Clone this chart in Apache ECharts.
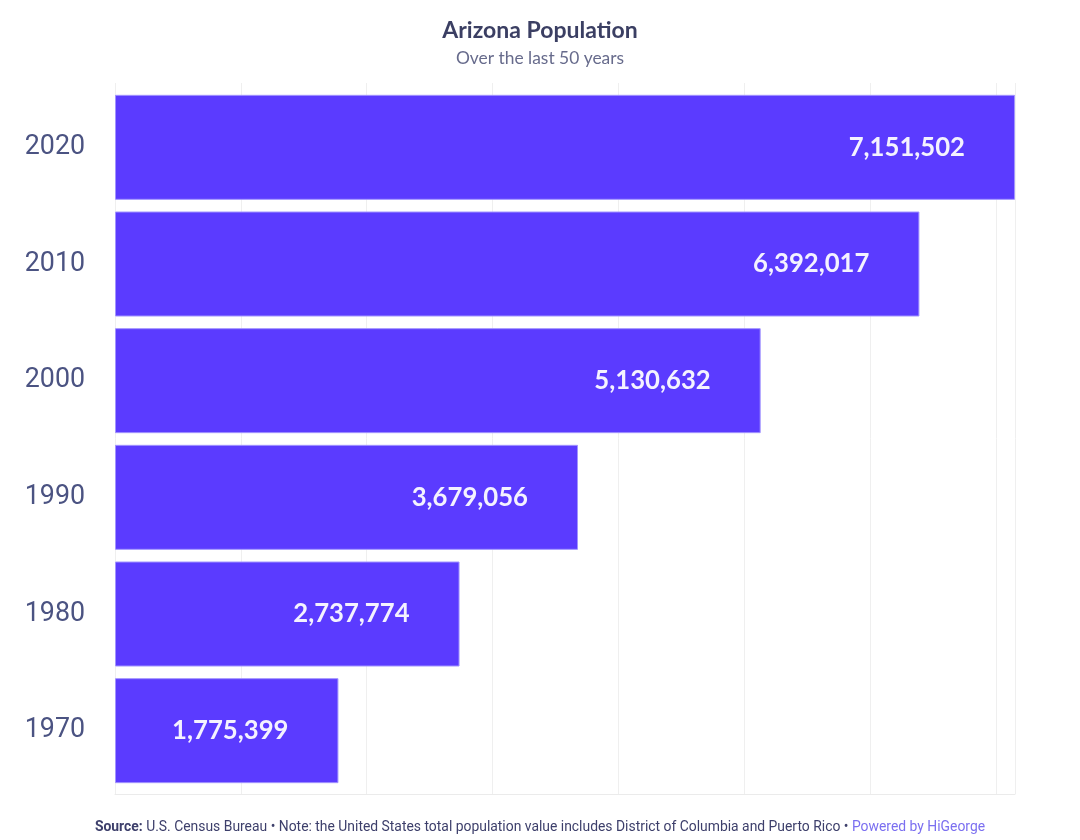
<!DOCTYPE html>
<html>
<head>
<meta charset="utf-8">
<script src="https://cdn.jsdelivr.net/npm/echarts@6/dist/echarts.min.js"></script>
<style>html,body{margin:0;padding:0;background:#fff;}#c{width:1080px;height:840px;}</style>
</head>
<body>
<div id="c"></div>
<script>
const years = ['2020', '2010', '2000', '1990', '1980', '1970'];
const population = [7151502, 6392017, 5130632, 3679056, 2737774, 1775399];
const tickInterval = 1000000;

const chart = echarts.init(document.getElementById('c'));
const maxVal = Math.max.apply(null, population);
const fmt = v => v.toLocaleString('en-US');

chart.setOption({
  backgroundColor: '#ffffff',
  animation: false,
  title: [
    { text: 'Arizona Population', left: 'center', top: 14,
      textStyle: { fontFamily: 'Lato', fontWeight: 'bold', fontSize: 23, color: '#3b3f63' } },
    { text: 'Over the last 50 years', left: 'center', top: 45,
      textStyle: { fontFamily: 'Lato', fontWeight: 'normal', fontSize: 17.4, color: '#676b8c' } },
    { text: '{b|Source:} U.S. Census Bureau • Note: the United States total population value includes District of Columbia and Puerto Rico • {p|Powered by HiGeorge}',
      left: 'center', top: 816,
      textStyle: { fontFamily: 'Roboto', fontWeight: 'normal', fontSize: 13.9, color: '#3d3f6b',
        rich: {
          b: { fontFamily: 'Roboto', fontWeight: 'bold', fontSize: 13.9, color: '#3d3f6b' },
          p: { fontFamily: 'Roboto', fontSize: 13.9, color: '#7b6ff0' }
        } } }
  ],
  grid: [
    { left: 115, right: 65, top: 89, bottom: 51 },
    { left: 115, right: 65, top: 83, bottom: 46 }
  ],
  xAxis: [
    { type: 'value', gridIndex: 0, min: 0, max: maxVal, interval: tickInterval,
      axisLine: { show: false }, axisTick: { show: false }, axisLabel: { show: false },
      splitLine: { show: false } },
    { type: 'value', gridIndex: 1, min: 0, max: maxVal, interval: tickInterval,
      axisLine: { show: true, lineStyle: { color: '#ebebeb', width: 1 } },
      axisTick: { show: false }, axisLabel: { show: false },
      splitLine: { show: true, lineStyle: { color: '#efefef', width: 1 } } }
  ],
  yAxis: [
    { type: 'category', gridIndex: 0, data: years, inverse: true,
      axisLine: { show: false }, axisTick: { show: false },
      axisLabel: { margin: 30, padding: [4, 0, 0, 0], fontFamily: 'Roboto', fontSize: 26.8, color: '#4b5382' } },
    { type: 'category', gridIndex: 1, data: years, show: false }
  ],
  series: [
    { type: 'bar', xAxisIndex: 0, yAxisIndex: 0, data: population,
      barCategoryGap: '10%', z: 3,
      itemStyle: { color: '#5b3bff', borderColor: '#a294ff', borderWidth: 1 },
      label: { show: true, position: 'insideRight', distance: 50, padding: [2, 0, 0, 0],
        formatter: p => fmt(p.value),
        fontFamily: 'Lato', fontWeight: 'bold', fontSize: 25.7, color: '#f4f2ff' } }
  ]
});
</script>
</body>
</html>
